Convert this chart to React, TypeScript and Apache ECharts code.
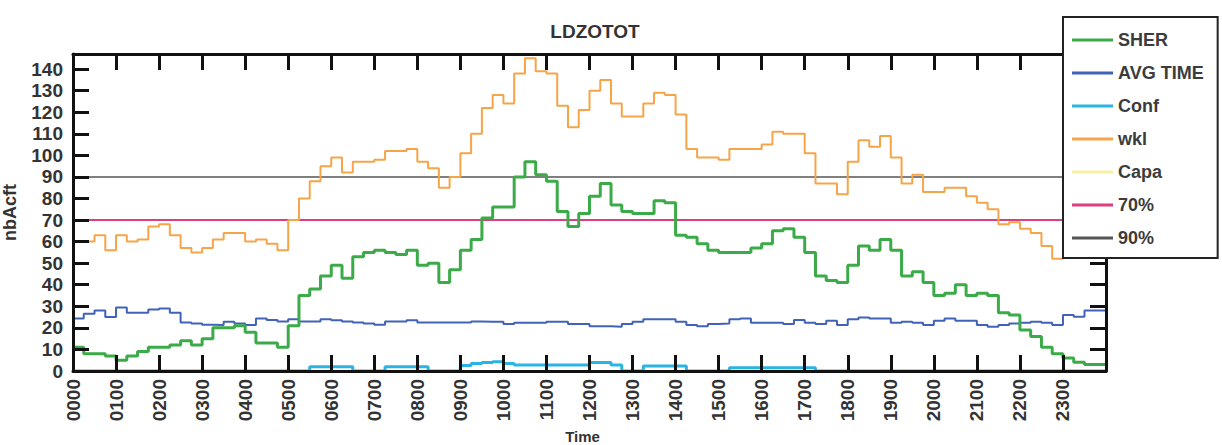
import React, { useEffect, useRef } from "react";
import * as echarts from "echarts";

// ---- data (15-minute steps starting at 0000) ----
const hourLabels = [
  "0000", "0100", "0200", "0300", "0400", "0500", "0600", "0700", "0800", "0900", "1000", "1100",
  "1200", "1300", "1400", "1500", "1600", "1700", "1800", "1900", "2000", "2100", "2200", "2300",
];
const stepMinutes = 15;

const sher = [
  11, 8, 8, 7, 5, 7, 9, 11, 11, 12, 14, 12, 15, 20, 20, 21, 18, 13, 13, 11,
  21, 35, 38, 44, 49, 43, 53, 55, 56, 55, 54, 56, 49, 50, 41, 47, 56, 61,
  71, 76, 76, 90, 97, 91, 88, 74, 67, 73, 81, 87, 77, 74, 73, 73, 79, 78, 63,
  62, 59, 56, 55, 55, 55, 57, 59, 65, 66, 62, 55, 44, 42, 41, 49, 58, 56, 61,
  56, 44, 46, 41, 35, 36, 40, 35, 36, 35, 27, 26, 19, 16, 11, 8, 6, 4, 3, 3,
];

const avgTime = [
  24.4, 26.5, 28, 25, 29.5, 27, 27, 28.5, 29, 27, 22.5, 22, 21.5, 21.3, 22.8, 22, 21.3, 24.4, 23.6, 23,
  24, 23, 23, 24, 23.5, 23, 22.5, 22, 21.5, 23, 23, 23.5, 22.5, 22.5, 22.5, 22.5, 22.5, 23,
  22.8, 22.8, 21.8, 22.4, 22.4, 22.4, 22.8, 22.8, 21.8, 21.8, 20.8, 20.8, 20.5, 21.8, 22.8, 24, 24, 24, 22.8,
  21.3, 20.8, 21.8, 22, 24, 24.4, 22.4, 22.4, 22.4, 21.8, 23.6, 22.4, 21.8, 23.3, 21.3, 24, 24.8, 24.4, 24.4,
  22.4, 22.8, 22.4, 21.3, 23.3, 24.4, 23.3, 23.3, 21.3, 20.5, 21.3, 22, 22.4, 22.8, 22.4, 21.3, 26, 25.2, 28, 28,
];

const conf = [
  0, 0, 0, 0, 0, 0, 0, 0, 0, 0, 0, 0, 0, 0, 0, 0, 0, 0, 0, 0,
  0, 0, 2, 2, 2, 2, 0, 0, 0, 2, 2, 2, 2, 0, 0, 0, 2.5, 3.5,
  3.9, 4.3, 3.5, 2.8, 2.8, 2.8, 2.8, 2.8, 2.8, 2.8, 3.9, 3.9, 2.8, 0, 0, 2.3, 2.3, 2.3, 2.3,
  0, 0, 0, 0, 1.5, 1.5, 1.5, 1.5, 1.5, 1.5, 1.5, 1.5, 0, 0, 0, 0, 0, 0, 0,
  0, 0, 0, 0, 0, 0, 0, 0, 0, 0, 0, 0, 0, 0, 0, 0, 0, 0, 0, 0,
];

const wkl = [
  60, 60, 63, 56, 63, 60, 61, 67, 68, 63, 57, 55, 57, 61, 64, 64, 60, 61, 59, 56,
  70, 80, 88, 95, 99, 92, 97, 97, 98, 102, 102, 103, 97, 94, 85, 90, 101, 110,
  122, 128, 124, 138, 145, 139, 138, 123, 113, 121, 130, 135, 124, 118, 118, 124, 129, 128, 119,
  103, 99, 99, 98, 103, 103, 103, 105, 111, 110, 110, 101, 87, 87, 82, 97, 107, 104, 109,
  99, 87, 91, 83, 83, 85, 85, 81, 78, 75, 68, 69, 66, 64, 58, 52, 53, 54, 53, 53,
];

const capa: number[] = [];
const level70 = 70;
const level90 = 90;

const seriesNames = ["SHER", "AVG TIME", "Conf", "wkl", "Capa", "70%", "90%"];

const FONT = '"Liberation Sans", Arial, sans-serif';

function toSteps(values: number[]): number[][] {
  const pts = values.map((v, i) => [i * stepMinutes, v]);
  if (values.length) pts.push([values.length * stepMinutes, values[values.length - 1]]);
  return pts;
}

function levelLine(v: number): number[][] {
  return [
    [0, v],
    [hourLabels.length * 60, v],
  ];
}

export default function App() {
  const ref = useRef<HTMLDivElement>(null);

  useEffect(() => {
    if (!ref.current) return;
    const chart = echarts.init(ref.current, undefined, { renderer: "svg" });
    const dayMax = hourLabels.length * 60;

    const mkLine = (name: string, data: number[][], color: string, width: number, z = 2) => ({
      name,
      type: "line",
      step: "end",
      data,
      showSymbol: false,
      symbol: "none",
      xAxisIndex: 0,
      yAxisIndex: 0,
      color,
      itemStyle: { color },
      lineStyle: { color, width },
      z,
    });

    const frameAxisLine = { show: true, onZero: false, lineStyle: { color: "#111", width: 3 } };
    const frameTick = { show: true, inside: true, length: 16, lineStyle: { color: "#111", width: 3 } };

    chart.setOption({
      animation: false,
      backgroundColor: "#fff",
      textStyle: { fontFamily: FONT },
      title: {
        text: "LDZOTOT",
        left: 590,
        top: 17,
        textAlign: "center",
        textStyle: { fontFamily: FONT, fontSize: 19, fontWeight: "bold", color: "#333" },
      },
      grid: { left: 73, right: 116, top: 54, bottom: 74, containLabel: false, outerBoundsMode: "none" },
      legend: {
        orient: "vertical",
        left: 1063,
        top: 17,
        data: seriesNames,
        icon: "rect",
        itemWidth: 41,
        itemHeight: 3,
        itemGap: 13,
        padding: [13, 14, 10, 9],
        backgroundColor: "#fff",
        borderColor: "#222",
        borderWidth: 2,
        z: 20,
        textStyle: { fontFamily: FONT, fontSize: 18, fontWeight: "bold", color: "#3c3c3c", lineHeight: 20 },
      },
      xAxis: [
        {
          type: "value",
          min: 0,
          max: dayMax,
          interval: 60,
          position: "bottom",
          z: 5,
          name: "Time",
          nameLocation: "middle",
          nameGap: 53,
          nameTextStyle: {
            fontFamily: FONT,
            fontSize: 15,
            lineHeight: 15,
            fontWeight: "bold",
            color: "#333",
            padding: [0, 14, 0, 0],
          },
          axisLine: frameAxisLine,
          axisTick: frameTick,
          splitLine: { show: false },
          axisLabel: {
            rotate: 90,
            margin: 8,
            showMaxLabel: false,
            fontFamily: FONT,
            fontSize: 19,
            fontWeight: "bold",
            color: "#333",
            formatter: (v: number) => hourLabels[Math.round(v / 60)] ?? "",
          },
        },
        {
          type: "value",
          min: 0,
          max: dayMax,
          interval: 60,
          position: "top",
          z: 5,
          axisLine: frameAxisLine,
          axisTick: frameTick,
          axisLabel: { show: false },
          splitLine: { show: false },
        },
      ],
      yAxis: [
        {
          type: "value",
          min: 0,
          max: 147,
          interval: 10,
          position: "left",
          z: 5,
          name: "nbAcft",
          nameLocation: "middle",
          nameGap: 54,
          nameTextStyle: { fontFamily: FONT, fontSize: 18, fontWeight: "bold", color: "#333" },
          axisLine: frameAxisLine,
          axisTick: frameTick,
          splitLine: { show: false },
          axisLabel: {
            margin: 10,
            showMaxLabel: false,
            fontFamily: FONT,
            fontSize: 19,
            fontWeight: "bold",
            color: "#333",
          },
        },
        {
          type: "value",
          min: 0,
          max: 147,
          interval: 10,
          position: "right",
          z: 5,
          axisLine: frameAxisLine,
          axisTick: frameTick,
          axisLabel: { show: false },
          splitLine: { show: false },
        },
      ],
      series: [
        mkLine("SHER", toSteps(sher), "#3aab48", 3, 4),
        mkLine("AVG TIME", toSteps(avgTime), "#4062b8", 2, 3),
        mkLine("Conf", toSteps(conf), "#2bb3e3", 3, 3),
        mkLine("wkl", toSteps(wkl), "#f5a548", 2, 3),
        mkLine("Capa", toSteps(capa), "#f7f0a6", 2, 2),
        mkLine("70%", levelLine(level70), "#dc3f80", 2, 2),
        mkLine("90%", levelLine(level90), "#555555", 1.5, 2),
      ],
    });

    return () => chart.dispose();
  }, []);

  return (
    <div
      ref={ref}
      style={{ position: "fixed", left: 0, top: 0, width: 1222, height: 445, background: "#fff" }}
    />
  );
}
